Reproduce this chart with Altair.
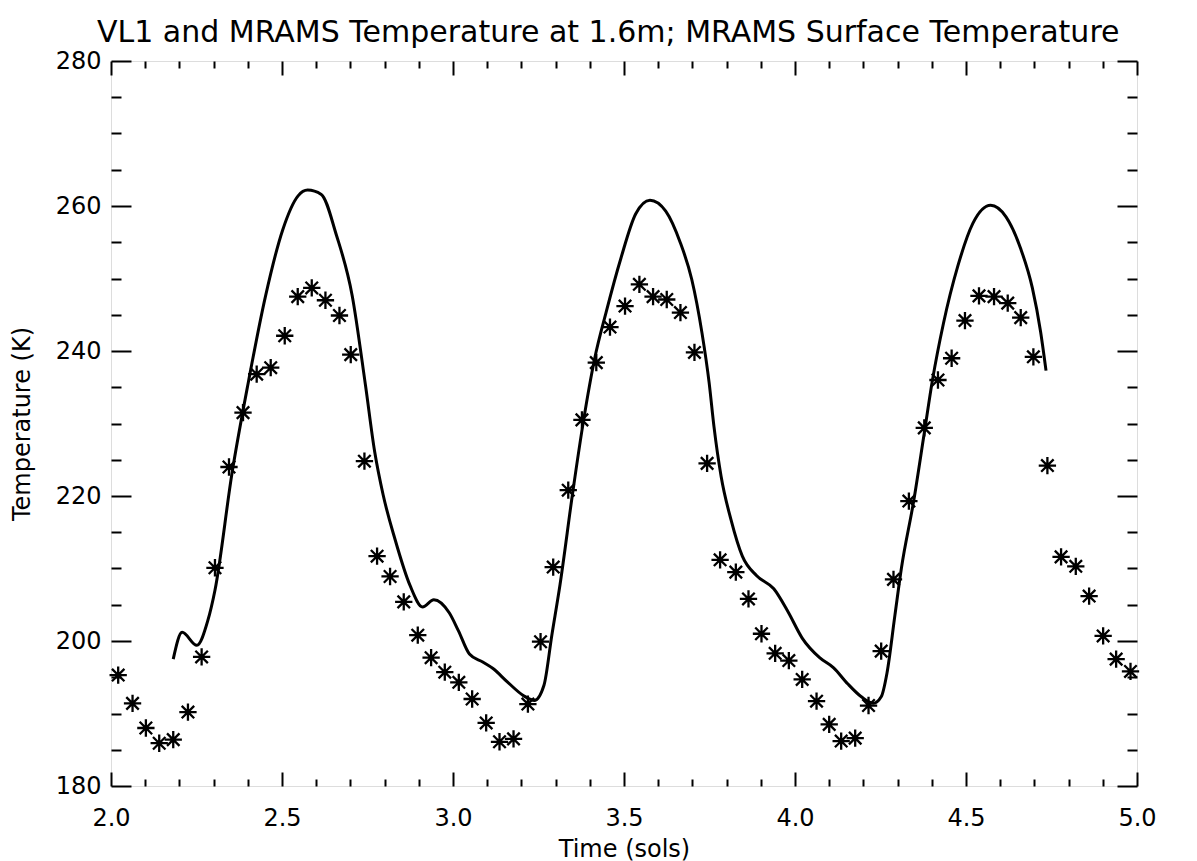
import altair as alt
import pandas as pd

# ---- data ----
obs_time = [2.021, 2.063, 2.102, 2.141, 2.182, 2.225, 2.265, 2.304, 2.345, 2.386,
            2.426, 2.467, 2.508, 2.546, 2.587, 2.627, 2.668, 2.701, 2.741, 2.778,
            2.816, 2.856, 2.897, 2.936, 2.976, 3.017, 3.056, 3.097, 3.136, 3.177,
            3.219, 3.256, 3.293, 3.337, 3.377, 3.419, 3.459, 3.503, 3.545, 3.585,
            3.625, 3.665, 3.706, 3.743, 3.781, 3.827, 3.864, 3.902, 3.942, 3.982,
            4.021, 4.063, 4.100, 4.135, 4.176, 4.215, 4.252, 4.288, 4.333, 4.378,
            4.418, 4.458, 4.497, 4.538, 4.582, 4.622, 4.660, 4.697, 4.738, 4.778,
            4.821, 4.860, 4.901, 4.939, 4.981]
obs_temp = [195.3, 191.4, 188.0, 185.9, 186.4, 190.2, 197.8, 210.1, 224.0, 231.5,
            236.8, 237.7, 242.1, 247.5, 248.7, 247.0, 244.9, 239.5, 224.8, 211.7,
            208.9, 205.4, 200.8, 197.7, 195.7, 194.3, 192.0, 188.7, 186.1, 186.5,
            191.3, 199.9, 210.2, 220.8, 230.5, 238.4, 243.3, 246.2, 249.2, 247.5,
            247.1, 245.3, 239.8, 224.5, 211.2, 209.5, 205.8, 201.0, 198.3, 197.3,
            194.7, 191.7, 188.5, 186.2, 186.6, 191.1, 198.6, 208.5, 219.3, 229.4,
            236.0, 239.0, 244.2, 247.6, 247.5, 246.6, 244.6, 239.2, 224.2, 211.6,
            210.3, 206.2, 200.7, 197.5, 195.8]

model_time = [2.182, 2.208, 2.251, 2.283, 2.304, 2.354, 2.402, 2.451, 2.502, 2.547,
              2.575, 2.615, 2.659, 2.705, 2.744, 2.771, 2.796, 2.830, 2.874, 2.911,
              2.944, 2.989, 3.016, 3.048, 3.087, 3.117, 3.158, 3.208, 3.238, 3.266,
              3.289, 3.313, 3.351, 3.382, 3.414, 3.448, 3.491, 3.534, 3.576, 3.622,
              3.665, 3.698, 3.728, 3.749, 3.763, 3.784, 3.813, 3.846, 3.888, 3.938,
              3.980, 4.021, 4.072, 4.113, 4.154, 4.194, 4.229, 4.252, 4.269, 4.292,
              4.311, 4.347, 4.378, 4.402, 4.434, 4.476, 4.520, 4.572, 4.617, 4.660,
              4.694, 4.718, 4.734]
model_temp = [197.5, 201.2, 199.4, 202.8, 207.0, 223.2, 235.8, 247.4, 256.7, 261.4,
              262.2, 261.6, 256.0, 247.7, 235.3, 226.1, 220.1, 214.1, 207.7, 204.7,
              205.7, 203.9, 201.4, 198.2, 197.1, 196.2, 194.4, 192.4, 191.8, 193.9,
              200.8, 207.8, 220.8, 230.5, 238.9, 245.4, 252.8, 258.9, 260.8, 259.3,
              254.9, 249.9, 242.5, 235.6, 229.6, 222.7, 216.7, 211.7, 209.0, 207.2,
              204.0, 200.4, 197.7, 196.3, 194.1, 192.3, 191.4, 192.3, 195.6, 203.5,
              210.0, 219.3, 228.7, 236.0, 243.8, 251.7, 257.6, 260.1, 258.5, 254.1,
              248.7, 242.7, 237.3]

x_major = [2.0, 2.5, 3.0, 3.5, 4.0, 4.5, 5.0]
x_minor = [2.1, 2.2, 2.3, 2.4, 2.6, 2.7, 2.8, 2.9, 3.1, 3.2, 3.3, 3.4,
           3.6, 3.7, 3.8, 3.9, 4.1, 4.2, 4.3, 4.4, 4.6, 4.7, 4.8, 4.9]
y_major = [180, 200, 220, 240, 260, 280]
y_minor = [185, 190, 195, 205, 210, 215, 225, 230, 235, 245, 250, 255, 265, 270, 275]

title_text = "VL1 and MRAMS Temperature at 1.6m; MRAMS Surface Temperature"
x_title = "Time (sols)"
y_title = "Temperature (K)"

obs_df = pd.DataFrame({"t": obs_time, "T": obs_temp})
model_df = pd.DataFrame({"t": model_time, "T": model_temp})

W, H = 1026, 725
FONT = "DejaVu Sans"
ASTERISK = "M-1,0L1,0M0,-1L0,1M-0.72,-0.72L0.72,0.72M-0.72,0.72L0.72,-0.72"

xs = alt.Scale(domain=[2, 5], nice=False, zero=False)
ys = alt.Scale(domain=[180, 280], nice=False, zero=False)


def tick_axis(orient, offset, values, size):
    return alt.Axis(orient=orient, offset=offset, values=values, tickSize=size,
                    tickWidth=2, tickColor="black", labels=False, domain=False,
                    grid=False, title=None)


line = alt.Chart(model_df).mark_line(
    color="black", strokeWidth=3, interpolate="monotone"
).encode(
    x=alt.X("t:Q", scale=xs, axis=alt.Axis(
        orient="bottom", values=x_major, format=".1f", ticks=False, domain=False,
        grid=False, labelPadding=20, labelFontSize=24, labelFont=FONT,
        labelColor="black", labelFlush=False, labelOverlap=False,
        title=x_title, titleFontSize=24, titleFont=FONT, titleFontWeight="normal",
        titleColor="black", titleX=W / 2, titleY=70, titleBaseline="alphabetic",
        titleAlign="center")),
    y=alt.Y("T:Q", scale=ys, axis=alt.Axis(
        orient="left", values=y_major, format="d", ticks=False, domain=False,
        grid=False, labelPadding=10, labelFontSize=24, labelFont=FONT,
        labelColor="black", labelFlush=False, labelOverlap=False,
        title=y_title, titleFontSize=24, titleFont=FONT, titleFontWeight="normal",
        titleColor="black", titleX=-89, titleY=H / 2, titleAngle=270,
        titleBaseline="middle", titleAlign="center")),
)

points = alt.Chart(obs_df).mark_point(
    shape=ASTERISK, size=300, filled=False, stroke="black", strokeWidth=2.3, opacity=1
).encode(
    x=alt.X("t:Q", scale=xs, axis=tick_axis("top", -H, x_major, 14)),
    y=alt.Y("T:Q", scale=ys, axis=tick_axis("right", -W, y_major, 20)),
)

ticks2 = alt.Chart(obs_df).mark_point(opacity=0).encode(
    x=alt.X("t:Q", scale=xs, axis=tick_axis("bottom", -H, x_major, 14)),
    y=alt.Y("T:Q", scale=ys, axis=tick_axis("left", -W, y_major, 20)),
)
ticks3 = alt.Chart(obs_df).mark_point(opacity=0).encode(
    x=alt.X("t:Q", scale=xs, axis=tick_axis("top", -H, x_minor, 7)),
    y=alt.Y("T:Q", scale=ys, axis=tick_axis("right", -W, y_minor, 10)),
)
ticks4 = alt.Chart(obs_df).mark_point(opacity=0).encode(
    x=alt.X("t:Q", scale=xs, axis=tick_axis("bottom", -H, x_minor, 7)),
    y=alt.Y("T:Q", scale=ys, axis=tick_axis("left", -W, y_minor, 10)),
)

chart = alt.layer(line, points, ticks2, ticks3, ticks4).resolve_axis(
    x="independent", y="independent"
).properties(
    width=W, height=H,
    title=alt.TitleParams(text=title_text, anchor="start", frame="group", dx=-14,
                          fontSize=30, font=FONT, fontWeight="normal",
                          color="black", offset=-23, baseline="alphabetic"),
    autosize=alt.AutoSizeParams(type="none"),
    padding={"left": 111, "top": 61, "right": 60, "bottom": 75},
).configure_view(
    stroke="black", strokeWidth=2.5
).configure(background="white")

chart.save("out.html", embed_options={"renderer": "svg", "actions": False})
